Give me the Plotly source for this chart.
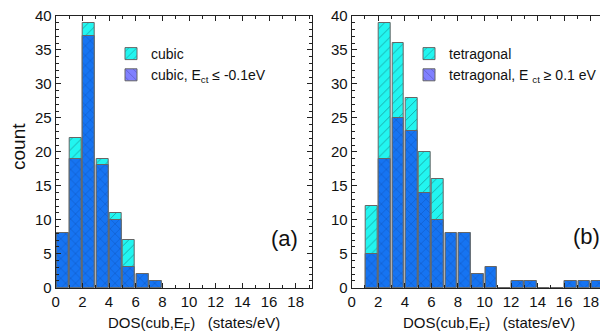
import plotly.graph_objects as go

# ---- data ----
bins_a = [0.5, 1.5, 2.5, 3.5, 4.5, 5.5, 6.5, 7.5]
cubic = [8, 22, 39, 19, 11, 7, 2, 1]
cubic_ect = [8, 19, 37, 18, 10, 3, 2, 1]

bins_b = [1.5, 2.5, 3.5, 4.5, 5.5, 6.5, 7.5, 8.5, 9.5, 10.5, 11.5, 12.5, 13.5, 14.5, 15.5, 16.5, 17.5, 18.5]
tetra = [12, 39, 36, 28, 20, 16, 8, 8, 2, 3, 0, 1, 1, 0, 0, 1, 1, 1]
tetra_ect = [5, 19, 25, 23, 14, 10, 8, 8, 2, 3, 0, 1, 1, 0, 0, 1, 1, 1]

x_ticks = [0, 2, 4, 6, 8, 10, 12, 14, 16, 18]
y_ticks = [0, 5, 10, 15, 20, 25, 30, 35, 40]

CYAN = "#22F5F0"
BLUE = "#1674F2"
LEG2 = "#8080FF"
EDGE = "#666666"

# page has an 8px body margin; figure is placed at (8, 8)
OFF = 8
W = 608 - OFF
H = 335 - OFF


def px(x):
    return (x - OFF) / W


def py(y):
    return (H - (y - OFF)) / H


cyan_pat = dict(shape="/", fgcolor="#104848", bgcolor=CYAN, size=7, solidity=0.12, fillmode="overlay")
blue_pat = dict(shape="x", fgcolor="#0A2A70", bgcolor=BLUE, size=7, solidity=0.12, fillmode="overlay")
leg2_pat = dict(shape="\\", fgcolor="#303080", bgcolor=LEG2, size=7, solidity=0.12, fillmode="overlay")

fig = go.Figure()


def add_panel(xs, tot, sub, xa, ya, name1, name2, leg):
    fig.add_trace(go.Bar(x=xs, y=tot, width=0.88, xaxis=xa, yaxis=ya,
                         marker=dict(color=CYAN, pattern=cyan_pat, line=dict(color=EDGE, width=1)),
                         name=name1, legend=leg, showlegend=True))
    fig.add_trace(go.Bar(x=xs, y=sub, width=0.88, xaxis=xa, yaxis=ya,
                         marker=dict(color=BLUE, pattern=blue_pat, line=dict(color=EDGE, width=1)),
                         name=name2, legend=leg, showlegend=False))
    # legend-only proxy with the legend colour of the reference
    fig.add_trace(go.Bar(x=[None], y=[None], xaxis=xa, yaxis=ya,
                         marker=dict(color=LEG2, pattern=leg2_pat, line=dict(color=EDGE, width=1)),
                         name=name2, legend=leg, showlegend=True))


add_panel(bins_a, cubic, cubic_ect, "x", "y", "cubic", "cubic, E<sub>ct</sub> \u2264 -0.1eV", "legend")
add_panel(bins_b, tetra, tetra_ect, "x2", "y2", "tetragonal", "tetragonal, E <sub>ct</sub> \u2265 0.1 eV", "legend2")

yd = [py(287.7), py(16)]
xd1 = [px(55.7), px(311.7)]
xd2 = [px(351.7), px(606.7)]

axis_common = dict(showline=True, linecolor="#222", linewidth=1, mirror="ticks",
                   ticks="inside", ticklen=5, tickcolor="#222", showgrid=False, zeroline=False,
                   tickfont=dict(family="Arial, Liberation Sans", size=15, color="#111"),
                   ticklabeloverflow="allow", automargin=False)

xcommon = dict(axis_common, range=[0, 19.2], tickvals=x_ticks,
               minor=dict(dtick=1, tick0=0, ticks="inside", ticklen=3, tickcolor="#222"))
ycommon = dict(axis_common, range=[0, 40], tickvals=y_ticks,
               minor=dict(dtick=1, tick0=0, ticks="inside", ticklen=3, tickcolor="#222"))

fig.update_layout(
    width=W, height=H,
    margin=dict(l=0, r=0, t=0, b=0),
    paper_bgcolor="white", plot_bgcolor="white",
    barmode="overlay", bargap=0,
    font=dict(family="Arial, Liberation Sans", color="#111"),
    xaxis=dict(xcommon, domain=xd1, anchor="y"),
    yaxis=dict(ycommon, domain=yd, anchor="x"),
    xaxis2=dict(xcommon, domain=xd2, anchor="y2"),
    yaxis2=dict(ycommon, domain=yd, anchor="x2"),
    legend=dict(x=px(111), y=py(38), xanchor="left", yanchor="top",
                bgcolor="rgba(0,0,0,0)", font=dict(size=14), tracegroupgap=0),
    legend2=dict(x=px(409), y=py(38), xanchor="left", yanchor="top",
                 bgcolor="rgba(0,0,0,0)", font=dict(size=14), tracegroupgap=0),
)

ann = []
for cx in [(55.7 + 311.7) / 2 + 10, (351.7 + 606.7) / 2 + 10]:
    ann.append(dict(x=px(cx), y=py(323), xref="paper", yref="paper",
                    text="DOS(cub,E<sub>F</sub>)\u00a0\u00a0\u00a0(states/eV)", showarrow=False,
                    font=dict(size=15), xanchor="center", yanchor="middle"))
ann.append(dict(x=px(18), y=py(147), xref="paper", yref="paper", text="count",
                textangle=-90, showarrow=False, font=dict(size=19), xanchor="center", yanchor="middle"))
ann.append(dict(x=px(284), y=py(238), xref="paper", yref="paper", text="(a)",
                showarrow=False, font=dict(size=22), xanchor="center", yanchor="middle"))
ann.append(dict(x=px(586), y=py(237), xref="paper", yref="paper", text="(b)",
                showarrow=False, font=dict(size=22), xanchor="center", yanchor="middle"))
fig.update_layout(annotations=ann)

fig.write_html("out.html")
